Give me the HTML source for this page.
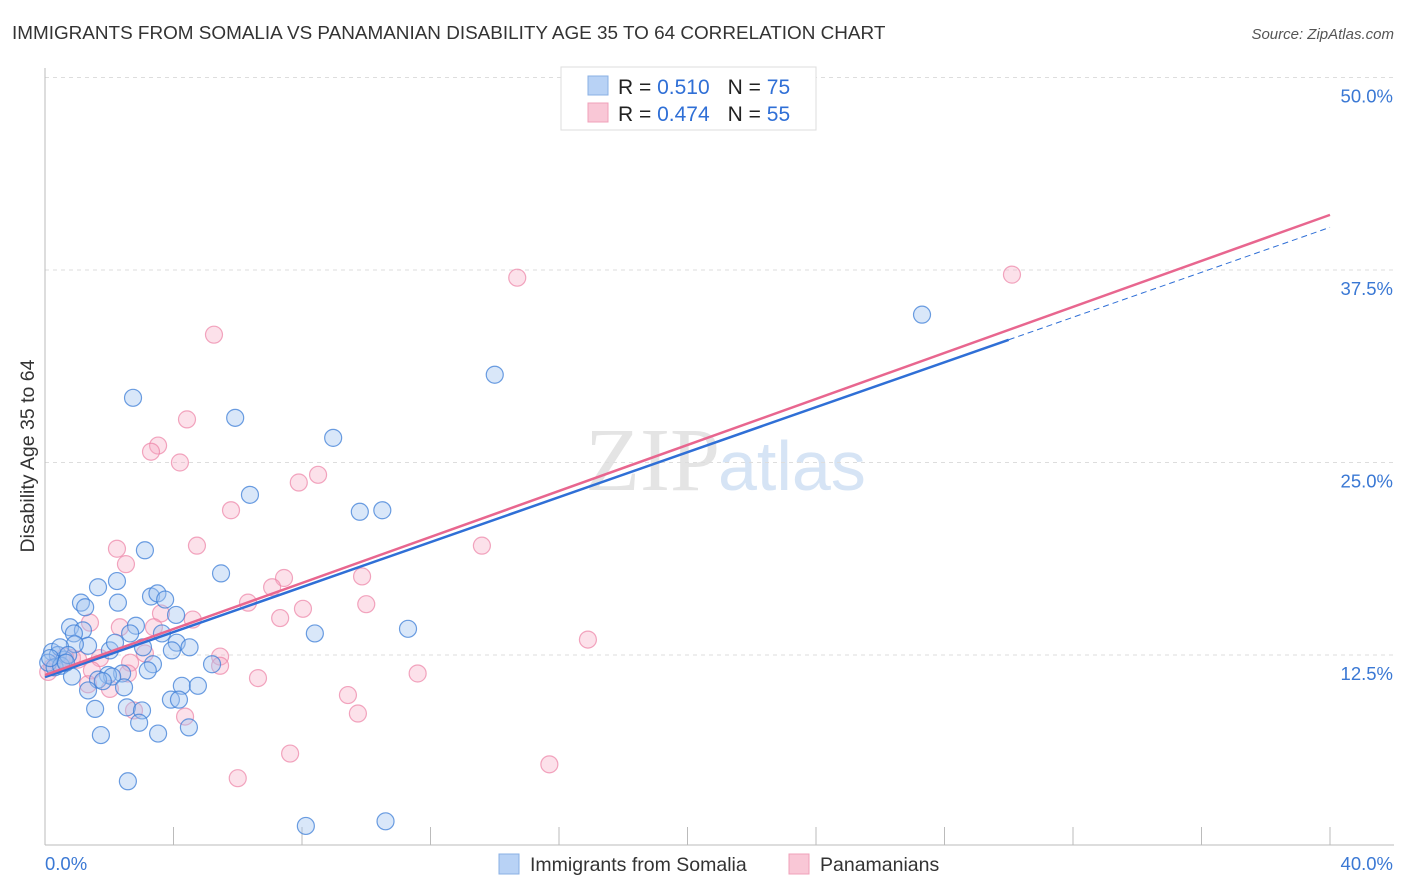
<!DOCTYPE html>
<html><head><meta charset="utf-8"><style>
body{margin:0;background:#fff;font-family:"Liberation Sans",sans-serif}
svg{display:block}
</style></head><body>
<svg id="c" width="1406" height="892">
<text x="12" y="39" font-size="18.9" fill="#333">IMMIGRANTS FROM SOMALIA VS PANAMANIAN DISABILITY AGE 35 TO 64 CORRELATION CHART</text>
<text x="1394" y="39" font-size="15" fill="#555" font-style="italic" text-anchor="end">Source: ZipAtlas.com</text>
<text x="720" y="490" font-size="90" fill="#e4e4e4" text-anchor="end" font-family="Liberation Serif">ZIP</text>
<text x="718" y="490" font-size="70" fill="#d6e4f5">atlas</text>
<text transform="translate(34,456) rotate(-90)" font-size="19.5" fill="#333" text-anchor="middle">Disability Age 35 to 64</text>
<g id="grid"></g><g id="pts"></g><g id="lines"></g>
<g>
<rect x="561" y="67" width="255" height="63" fill="#fff" stroke="#ddd"/>
<rect x="588" y="76" width="20" height="19" fill="#b8d2f5" stroke="#8ab0e4"/>
<rect x="588" y="103" width="20" height="19" fill="#f9c7d6" stroke="#f0a0ba"/>
<text x="618" y="94" font-size="21" fill="#222">R = <tspan fill="#2f6fd6">0.510</tspan><tspan dx="18">N = </tspan><tspan fill="#2f6fd6">75</tspan></text>
<text x="618" y="121" font-size="21" fill="#222">R = <tspan fill="#2f6fd6">0.474</tspan><tspan dx="18">N = </tspan><tspan fill="#2f6fd6">55</tspan></text>
</g>
<g>
<rect x="499" y="854" width="20" height="20" fill="#b8d2f5" stroke="#8ab0e4"/>
<text x="530" y="871" font-size="19.5" fill="#333">Immigrants from Somalia</text>
<rect x="789" y="854" width="20" height="20" fill="#f9c7d6" stroke="#f0a0ba"/>
<text x="820" y="871" font-size="19.5" fill="#333">Panamanians</text>
</g>
</svg>
<script>
const yTicks=[12.5,25,37.5,50];
const yTickLabels=["12.5%","25.0%","37.5%","50.0%"];
const xTickLabels=["0.0%","40.0%"];
const blueX=[2.74,5.92,8.97,14.0,27.3,6.38,9.8,10.5,3.11,5.48,2.24,1.65,3.3,3.5,3.74,2.27,1.12,1.25,4.08,2.83,0.78,1.18,0.9,2.65,3.64,11.3,8.4,4.1,4.5,3.05,3.95,1.34,2.02,2.18,0.93,0.22,0.4,0.6,0.1,0.3,0.5,3.36,3.2,5.2,2.4,1.96,2.09,0.84,1.65,1.8,2.46,1.34,4.26,4.76,3.92,4.17,1.56,2.55,3.02,2.93,4.48,1.74,3.52,2.58,8.12,10.6,0.47,0.72,0.16,0.65];
const blueY=[29.2,27.9,26.6,30.7,34.6,22.9,21.8,21.9,19.3,17.8,17.3,16.9,16.3,16.5,16.1,15.9,15.9,15.6,15.1,14.4,14.3,14.1,13.9,13.9,13.9,14.2,13.9,13.3,13.0,13.0,12.8,13.1,12.8,13.3,13.2,12.7,12.5,12.2,12.0,11.7,11.8,11.9,11.5,11.9,11.3,11.2,11.1,11.1,10.9,10.8,10.4,10.2,10.5,10.5,9.6,9.6,9.0,9.1,8.9,8.1,7.8,7.3,7.4,4.3,1.4,1.7,13.0,12.5,12.3,12.0];
const pinkX=[19.2,14.7,30.1,5.26,4.42,3.52,3.3,4.2,8.5,7.9,5.79,4.73,13.6,2.24,2.52,9.87,7.44,7.07,6.32,10.0,8.03,3.61,7.32,4.6,1.4,2.33,3.39,16.9,3.11,5.45,1.71,0.84,1.03,2.65,5.45,1.46,11.6,2.58,6.63,1.34,2.02,9.43,9.74,2.77,4.36,7.63,6.0,15.7,0.22,0.4,0.62,0.1];
const pinkY=[49.8,37.0,37.2,33.3,27.8,26.1,25.7,25.0,24.2,23.7,21.9,19.6,19.6,19.4,18.4,17.6,17.5,16.9,15.9,15.8,15.5,15.2,14.9,14.8,14.6,14.3,14.3,13.5,12.6,12.4,12.3,12.3,12.2,12.0,11.8,11.5,11.3,11.3,11.0,10.6,10.3,9.9,8.7,8.9,8.5,6.1,4.5,5.4,11.7,12.0,12.4,11.4];
const blueTrend=[11.07,0.730];
const pinkTrend=[11.2,0.747];
const X=v=>45+v*1285/40;
const Y=v=>655-(v-12.5)*15.4;
const NS="http://www.w3.org/2000/svg";
function mk(t,a,p){const e=document.createElementNS(NS,t);for(const k in a)e.setAttribute(k,a[k]);p.appendChild(e);return e;}
const g=document.getElementById('grid');
yTicks.forEach((t,i)=>{
 const l=mk('line',{x1:45,x2:1394,y1:Y(t),y2:Y(t),stroke:'#ddd','stroke-dasharray':'4,4'},g);
 
 
 const tx=mk('text',{x:1393,y:Y(t)+25,'font-size':18.5,fill:'#3a78d4','text-anchor':'end'},g);
 tx.textContent=yTickLabels[i];
 
 
});
const ax=mk('line',{x1:45,x2:45,y1:68,y2:845,stroke:'#bbb'},g);


const bx=mk('line',{x1:45,x2:1394,y1:845,y2:845,stroke:'#bbb'},g);


for(let i=0;i<=10;i++){const tk=mk('line',{x1:X(i*4),x2:X(i*4),y1:827,y2:845,stroke:'#bbb'},g);
 
 }
[[0,'start',45],[40,'end',1393]].forEach((d,i)=>{const t=mk('text',{x:d[2],y:870,'font-size':18.5,fill:'#3a78d4','text-anchor':d[1]},g);t.textContent=xTickLabels[i];
 
 });
const p=document.getElementById('pts');
pinkX.forEach((x,i)=>{const c=mk('circle',{cx:X(x),cy:Y(pinkY[i]),r:8.5,fill:'rgba(247,170,195,0.35)',stroke:'rgba(236,130,165,0.7)','stroke-width':1.2},p);
 
 });
blueX.forEach((x,i)=>{const c=mk('circle',{cx:X(x),cy:Y(blueY[i]),r:8.5,fill:'rgba(160,195,240,0.4)',stroke:'rgba(60,125,215,0.75)','stroke-width':1.2},p);
 
 });
const L=document.getElementById('lines');
const ye=(t,x)=>t[0]+t[1]*x;
const bl=mk('line',{x1:X(0),y1:Y(ye(blueTrend,0)),x2:X(30),y2:Y(ye(blueTrend,30)),stroke:'#2f6fd6','stroke-width':2.5},L);


const bd=mk('line',{x1:X(30),y1:Y(ye(blueTrend,30)),x2:X(40),y2:Y(ye(blueTrend,40)),stroke:'#2f6fd6','stroke-width':1,'stroke-dasharray':'6,4'},L);


const pl=mk('line',{x1:X(0),y1:Y(ye(pinkTrend,0)),x2:X(40),y2:Y(ye(pinkTrend,40)),stroke:'#e8668f','stroke-width':2.5},L);


</script>
</body></html>
